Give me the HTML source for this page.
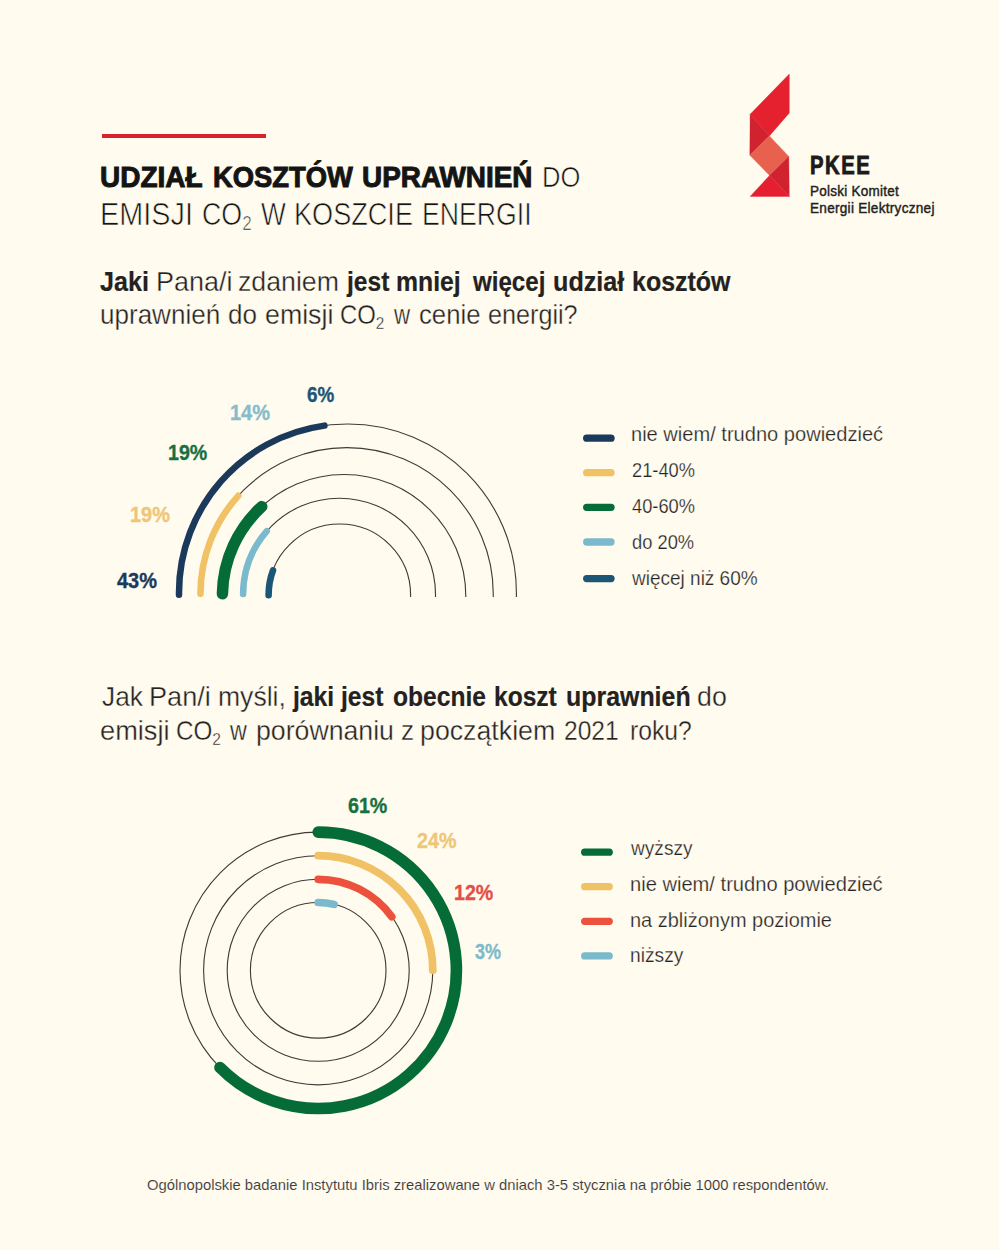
<!DOCTYPE html>
<html lang="pl">
<head>
<meta charset="utf-8">
<style>
html,body{margin:0;padding:0;}
body{width:999px;height:1250px;overflow:hidden;background:#fffbee;position:relative;font-family:"Liberation Sans",sans-serif;}
.t{position:absolute;white-space:nowrap;transform-origin:0 0;line-height:1;}
.b{font-weight:bold;}
sub{font-size:0.64em;vertical-align:baseline;position:relative;top:0.28em;}
svg{position:absolute;left:0;top:0;}
</style>
</head>
<body>
<div id="redline" style="position:absolute;left:101.6px;top:133.8px;width:164.4px;height:4px;background:#d8232f;"></div>
<svg width="999" height="1250" viewBox="0 0 999 1250">
  <polygon points="789.3,74 789.3,113.1 769.4,135.9 750.1,114.3" fill="#e5202f" stroke="#e5202f" stroke-width="0.35"/>
  <polygon points="750.1,114.3 769.4,135.9 749.8,155.2" fill="#d0222f" stroke="#d0222f" stroke-width="0.35"/>
  <polygon points="769.4,135.9 788.8,156.5 769.6,175.4 749.8,155.2" fill="#e8604e" stroke="#e8604e" stroke-width="0.35"/>
  <polygon points="788.8,156.5 789.3,196.5 769.6,175.4" fill="#d0222f" stroke="#d0222f" stroke-width="0.35"/>
  <polygon points="769.6,175.4 789.3,196.5 750.1,196.5" fill="#e51e30" stroke="#e51e30" stroke-width="0.35"/>
  <g fill="none" stroke="#403b37" stroke-width="1.12">
    <path d="M179.00,597 L179.00,592.7 C179.00,499.53 254.53,424.00 347.70,424.00 C440.87,424.00 516.40,499.53 516.40,592.7 L516.40,597"/>
    <path d="M200.46,597 L200.46,594.0 C200.46,513.14 266.00,447.60 346.86,447.60 C427.72,447.60 493.26,513.14 493.26,594.0 L493.26,597"/>
    <path d="M222.40,597 L222.40,596.2 C222.40,528.99 276.89,474.50 344.10,474.50 C411.31,474.50 465.80,528.99 465.80,596.2 L465.80,597"/>
    <path d="M243.10,597 L243.10,594.4 C243.10,541.27 286.17,498.20 339.30,498.20 C392.43,498.20 435.50,541.27 435.50,594.4 L435.50,597"/>
    <path d="M268.60,597 L268.60,595 C268.60,555.79 300.39,524.00 339.60,524.00 C378.81,524.00 410.60,555.79 410.60,595 L410.60,597"/>
  </g>
  <g fill="none" stroke-linecap="round">
    <path d="M179.00,594.75 L179.00,592.70 C179.00,507.43 242.25,436.95 324.39,425.60" stroke="#1b395b" stroke-width="6.5"/>
    <path d="M200.46,593.80 C200.51,556.12 214.80,521.77 238.23,495.85" stroke="#f1c265" stroke-width="6.6"/>
    <path d="M222.42,593.85 C223.08,559.35 238.08,528.36 261.72,506.62" stroke="#056c38" stroke-width="11.5"/>
    <path d="M243.10,594.00 C243.20,569.95 252.12,547.97 266.81,531.16" stroke="#7bb9cc" stroke-width="6.5"/>
    <path d="M268.60,595.20 L268.60,595.00 C268.60,586.34 270.15,578.04 272.99,570.36" stroke="#1c5677" stroke-width="6.6"/>
  </g>
  <g fill="none" stroke="#403b37" stroke-width="1.12">
    <circle cx="318.2" cy="970.3" r="138.2"/>
    <circle cx="318.2" cy="970.3" r="114.6"/>
    <circle cx="318.2" cy="970.3" r="91.0"/>
    <circle cx="318.2" cy="970.3" r="67.8"/>
  </g>
  <g fill="none" stroke-linecap="round">
    <path d="M318.20,832.10 A138.2,138.2 0 1 1 219.97,1067.51" stroke="#056c38" stroke-width="11.6"/>
    <path d="M318.20,855.70 A114.6,114.6 0 0 1 432.80,970.30" stroke="#f1c265" stroke-width="7.7"/>
    <path d="M318.20,879.30 A91.0,91.0 0 0 1 391.73,916.68" stroke="#eb513c" stroke-width="7.7"/>
    <path d="M318.20,902.50 A67.8,67.8 0 0 1 334.03,904.37" stroke="#7bb9cc" stroke-width="7.7"/>
  </g>
  <g stroke-linecap="round" stroke-width="7.3">
    <line x1="586.7" y1="438.2" x2="611" y2="438.2" stroke="#1b395b"/>
    <line x1="586.7" y1="472.7" x2="611" y2="472.7" stroke="#f1c265"/>
    <line x1="586.7" y1="507.3" x2="611" y2="507.3" stroke="#056c38"/>
    <line x1="586.7" y1="542" x2="611" y2="542" stroke="#7bb9cc"/>
    <line x1="586.7" y1="578.6" x2="611" y2="578.6" stroke="#1c5677"/>
    <line x1="584.7" y1="852.2" x2="609.2" y2="852.2" stroke="#056c38"/>
    <line x1="584.7" y1="886.7" x2="609.2" y2="886.7" stroke="#f1c265"/>
    <line x1="584.7" y1="921.3" x2="609.2" y2="921.3" stroke="#eb513c"/>
    <line x1="584.7" y1="955.9" x2="609.2" y2="955.9" stroke="#7bb9cc"/>
  </g>
</svg>
<div class="t b" id="t1_0" style="left:100.25px;top:161.93px;font-size:30.2px;color:#141414;-webkit-text-stroke:1.0px #141414;transform:scaleX(0.9265);">UDZIAŁ</div>
<div class="t b" id="t1_1" style="left:212.53px;top:161.93px;font-size:30.2px;color:#141414;-webkit-text-stroke:1.0px #141414;transform:scaleX(0.9065);">KOSZTÓW</div>
<div class="t b" id="t1_2" style="left:362.08px;top:161.93px;font-size:30.2px;color:#141414;-webkit-text-stroke:1.0px #141414;transform:scaleX(0.9243);">UPRAWNIEŃ</div>
<div class="t" id="t1_3" style="left:542.30px;top:161.93px;font-size:30.2px;color:#141414;-webkit-text-stroke:0.65px #fffbee;transform:scaleX(0.8462);">DO</div>
<div class="t" id="t2_0" style="left:100.11px;top:198.57px;font-size:30.5px;color:#141414;-webkit-text-stroke:0.65px #fffbee;transform:scaleX(0.9458);">EMISJI</div>
<div class="t" id="t2_1" style="left:201.56px;top:198.57px;font-size:30.5px;color:#141414;-webkit-text-stroke:0.65px #fffbee;transform:scaleX(0.8784);">CO<sub>2</sub></div>
<div class="t" id="t2_2" style="left:260.60px;top:198.57px;font-size:30.5px;color:#141414;-webkit-text-stroke:0.65px #fffbee;transform:scaleX(0.8609);">W</div>
<div class="t" id="t2_3" style="left:293.99px;top:198.57px;font-size:30.5px;color:#141414;-webkit-text-stroke:0.65px #fffbee;transform:scaleX(0.8886);">KOSZCIE</div>
<div class="t" id="t2_4" style="left:421.65px;top:198.57px;font-size:30.5px;color:#141414;-webkit-text-stroke:0.65px #fffbee;transform:scaleX(0.8745);">ENERGII</div>
<div class="t b" id="q1_0" style="left:100.00px;top:267.68px;font-size:27.2px;color:#242121;-webkit-text-stroke:0.2px #242121;transform:scaleX(0.9233);">Jaki</div>
<div class="t" id="q1_1" style="left:156.41px;top:267.68px;font-size:27.2px;color:#242121;-webkit-text-stroke:0.35px #fffbee;transform:scaleX(0.9921);">Pana/i</div>
<div class="t" id="q1_2" style="left:238.40px;top:267.68px;font-size:27.2px;color:#242121;-webkit-text-stroke:0.35px #fffbee;transform:scaleX(0.9823);">zdaniem</div>
<div class="t b" id="q1_3" style="left:346.91px;top:267.68px;font-size:27.2px;color:#242121;-webkit-text-stroke:0.2px #242121;transform:scaleX(0.9044);">jest</div>
<div class="t b" id="q1_4" style="left:396.48px;top:267.68px;font-size:27.2px;color:#242121;-webkit-text-stroke:0.2px #242121;transform:scaleX(0.9114);">mniej</div>
<div class="t b" id="q1_5" style="left:472.54px;top:267.68px;font-size:27.2px;color:#242121;-webkit-text-stroke:0.2px #242121;transform:scaleX(0.8867);">więcej</div>
<div class="t b" id="q1_6" style="left:553.30px;top:267.68px;font-size:27.2px;color:#242121;-webkit-text-stroke:0.2px #242121;transform:scaleX(0.9263);">udział</div>
<div class="t b" id="q1_7" style="left:632.27px;top:267.68px;font-size:27.2px;color:#242121;-webkit-text-stroke:0.2px #242121;transform:scaleX(0.9188);">kosztów</div>
<div class="t" id="q2_0" style="left:100.05px;top:301.38px;font-size:27.2px;color:#242121;-webkit-text-stroke:0.35px #fffbee;transform:scaleX(0.9578);">uprawnień</div>
<div class="t" id="q2_1" style="left:228.49px;top:301.38px;font-size:27.2px;color:#242121;-webkit-text-stroke:0.35px #fffbee;transform:scaleX(0.9570);">do</div>
<div class="t" id="q2_2" style="left:264.62px;top:301.38px;font-size:27.2px;color:#242121;-webkit-text-stroke:0.35px #fffbee;transform:scaleX(0.9839);">emisji</div>
<div class="t" id="q2_3" style="left:340.28px;top:301.38px;font-size:27.2px;color:#242121;-webkit-text-stroke:0.35px #fffbee;transform:scaleX(0.8781);">CO<sub>2</sub></div>
<div class="t" id="q2_4" style="left:394.14px;top:301.38px;font-size:27.2px;color:#242121;-webkit-text-stroke:0.35px #fffbee;transform:scaleX(0.8187);">w</div>
<div class="t" id="q2_5" style="left:419.45px;top:301.38px;font-size:27.2px;color:#242121;-webkit-text-stroke:0.35px #fffbee;transform:scaleX(0.9450);">cenie</div>
<div class="t" id="q2_6" style="left:487.87px;top:301.38px;font-size:27.2px;color:#242121;-webkit-text-stroke:0.35px #fffbee;transform:scaleX(0.9264);">energii?</div>
<div class="t" id="q3_0" style="left:101.99px;top:683.38px;font-size:27.2px;color:#242121;-webkit-text-stroke:0.35px #fffbee;transform:scaleX(0.9660);">Jak</div>
<div class="t" id="q3_1" style="left:149.19px;top:683.38px;font-size:27.2px;color:#242121;-webkit-text-stroke:0.35px #fffbee;transform:scaleX(0.9972);">Pan/i</div>
<div class="t" id="q3_2" style="left:218.38px;top:683.38px;font-size:27.2px;color:#242121;-webkit-text-stroke:0.35px #fffbee;transform:scaleX(0.9764);">myśli,</div>
<div class="t b" id="q3_3" style="left:292.72px;top:683.38px;font-size:27.2px;color:#242121;-webkit-text-stroke:0.2px #242121;transform:scaleX(0.9093);">jaki</div>
<div class="t b" id="q3_4" style="left:341.07px;top:683.38px;font-size:27.2px;color:#242121;-webkit-text-stroke:0.2px #242121;transform:scaleX(0.9063);">jest</div>
<div class="t b" id="q3_5" style="left:392.99px;top:683.38px;font-size:27.2px;color:#242121;-webkit-text-stroke:0.2px #242121;transform:scaleX(0.9042);">obecnie</div>
<div class="t b" id="q3_6" style="left:493.89px;top:683.38px;font-size:27.2px;color:#242121;-webkit-text-stroke:0.2px #242121;transform:scaleX(0.9031);">koszt</div>
<div class="t b" id="q3_7" style="left:566.26px;top:683.38px;font-size:27.2px;color:#242121;-webkit-text-stroke:0.2px #242121;transform:scaleX(0.9165);">uprawnień</div>
<div class="t" id="q3_8" style="left:696.78px;top:683.38px;font-size:27.2px;color:#242121;-webkit-text-stroke:0.35px #fffbee;transform:scaleX(0.9847);">do</div>
<div class="t" id="q4_0" style="left:100.39px;top:717.38px;font-size:27.2px;color:#242121;-webkit-text-stroke:0.35px #fffbee;transform:scaleX(1.0005);">emisji</div>
<div class="t" id="q4_1" style="left:176.42px;top:717.38px;font-size:27.2px;color:#242121;-webkit-text-stroke:0.35px #fffbee;transform:scaleX(0.8908);">CO<sub>2</sub></div>
<div class="t" id="q4_2" style="left:230.00px;top:717.38px;font-size:27.2px;color:#242121;-webkit-text-stroke:0.35px #fffbee;transform:scaleX(0.8560);">w</div>
<div class="t" id="q4_3" style="left:255.83px;top:717.38px;font-size:27.2px;color:#242121;-webkit-text-stroke:0.35px #fffbee;transform:scaleX(0.9811);">porównaniu</div>
<div class="t" id="q4_4" style="left:401.04px;top:717.38px;font-size:27.2px;color:#242121;-webkit-text-stroke:0.35px #fffbee;transform:scaleX(0.9612);">z</div>
<div class="t" id="q4_5" style="left:420.40px;top:717.38px;font-size:27.2px;color:#242121;-webkit-text-stroke:0.35px #fffbee;transform:scaleX(0.9838);">początkiem</div>
<div class="t" id="q4_6" style="left:563.86px;top:717.38px;font-size:27.2px;color:#242121;-webkit-text-stroke:0.35px #fffbee;transform:scaleX(0.9038);">2021</div>
<div class="t" id="q4_7" style="left:630.09px;top:717.38px;font-size:27.2px;color:#242121;-webkit-text-stroke:0.35px #fffbee;transform:scaleX(0.9078);">roku?</div>
<div class="t" id="foot" style="left:146.80px;top:1177.77px;font-size:14.5px;color:#3d3a3a;-webkit-text-stroke:0.1px #fffbee;transform:scaleX(1.0203);">Ogólnopolskie badanie Instytutu Ibris zrealizowane w dniach 3-5 stycznia na próbie 1000 respondentów.</div>
<div class="t" id="lg1" style="left:631.31px;top:424.25px;font-size:20.3px;color:#262323;-webkit-text-stroke:0.25px #fffbee;transform:scaleX(0.9895);">nie wiem/ trudno powiedzieć</div>
<div class="t" id="lg2" style="left:632.29px;top:460.25px;font-size:20.3px;color:#262323;-webkit-text-stroke:0.25px #fffbee;transform:scaleX(0.9009);">21-40%</div>
<div class="t" id="lg3" style="left:632.33px;top:496.25px;font-size:20.3px;color:#262323;-webkit-text-stroke:0.25px #fffbee;transform:scaleX(0.9007);">40-60%</div>
<div class="t" id="lg4" style="left:632.34px;top:532.35px;font-size:20.3px;color:#262323;-webkit-text-stroke:0.25px #fffbee;transform:scaleX(0.9027);">do 20%</div>
<div class="t" id="lg5" style="left:632.29px;top:568.35px;font-size:20.3px;color:#262323;-webkit-text-stroke:0.25px #fffbee;transform:scaleX(0.9366);">więcej niż 60%</div>
<div class="t" id="lh1" style="left:631.10px;top:837.85px;font-size:20.3px;color:#262323;-webkit-text-stroke:0.25px #fffbee;transform:scaleX(0.9414);">wyższy</div>
<div class="t" id="lh2" style="left:630.12px;top:873.75px;font-size:20.3px;color:#262323;-webkit-text-stroke:0.25px #fffbee;transform:scaleX(0.9917);">nie wiem/ trudno powiedzieć</div>
<div class="t" id="lh3" style="left:630.12px;top:909.95px;font-size:20.3px;color:#262323;-webkit-text-stroke:0.25px #fffbee;transform:scaleX(0.9845);">na zbliżonym poziomie</div>
<div class="t" id="lh4" style="left:630.17px;top:945.35px;font-size:20.3px;color:#262323;-webkit-text-stroke:0.25px #fffbee;transform:scaleX(0.9463);">niższy</div>
<div class="t b" id="l6" style="left:307.49px;top:385.03px;font-size:21.5px;color:#1c5677;-webkit-text-stroke:0.35px #1c5677;transform:scaleX(0.8750);">6%</div>
<div class="t b" id="l14" style="left:230.07px;top:402.63px;font-size:21.5px;color:#86bccd;-webkit-text-stroke:0.35px #86bccd;transform:scaleX(0.9286);">14%</div>
<div class="t b" id="l19g" style="left:168.42px;top:442.83px;font-size:21.5px;color:#187040;-webkit-text-stroke:0.35px #187040;transform:scaleX(0.9125);">19%</div>
<div class="t b" id="l19y" style="left:130.07px;top:505.43px;font-size:21.5px;color:#efc677;-webkit-text-stroke:0.35px #efc677;transform:scaleX(0.9274);">19%</div>
<div class="t b" id="l43" style="left:116.65px;top:571.02px;font-size:21.5px;color:#1b395b;-webkit-text-stroke:0.35px #1b395b;transform:scaleX(0.9275);">43%</div>
<div class="t b" id="m61" style="left:348.40px;top:796.32px;font-size:21.5px;color:#187040;-webkit-text-stroke:0.35px #187040;transform:scaleX(0.9135);">61%</div>
<div class="t b" id="m24" style="left:417.28px;top:831.42px;font-size:21.5px;color:#efc677;-webkit-text-stroke:0.35px #efc677;transform:scaleX(0.9163);">24%</div>
<div class="t b" id="m12" style="left:453.75px;top:883.32px;font-size:21.5px;color:#e25046;-webkit-text-stroke:0.35px #e25046;transform:scaleX(0.9115);">12%</div>
<div class="t b" id="m3" style="left:475.13px;top:942.42px;font-size:21.5px;color:#7fb9cc;-webkit-text-stroke:0.35px #7fb9cc;transform:scaleX(0.8346);">3%</div>
<div class="t b" id="pkee" style="left:810.20px;top:151.83px;font-size:26.2px;color:#1e1b1b;-webkit-text-stroke:0.9px #1e1b1b;letter-spacing:2px;transform:scaleX(0.7736);">PKEE</div>
<div class="t" id="pk1" style="left:810.00px;top:182.95px;font-size:15px;color:#231f1e;-webkit-text-stroke:0.45px #231f1e;letter-spacing:0.3px;transform:scaleX(0.8981);">Polski Komitet</div>
<div class="t" id="pk2" style="left:810.00px;top:199.75px;font-size:15px;color:#231f1e;-webkit-text-stroke:0.45px #231f1e;letter-spacing:0.3px;transform:scaleX(0.9054);">Energii Elektrycznej</div>
</body>
</html>
